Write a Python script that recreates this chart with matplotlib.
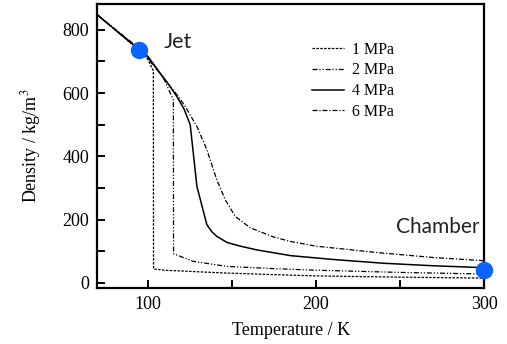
import matplotlib
matplotlib.use("Agg")
import matplotlib.pyplot as plt
from matplotlib.ticker import MultipleLocator

plt.rcParams["mathtext.fontset"] = "stix"

# Density of nitrogen vs temperature at several pressures
t_1mpa = [70, 80, 90, 95, 100, 103.3, 103.4, 110, 130, 147, 175, 200, 250, 300]
rho_1mpa = [847, 802, 757, 736, 706, 670, 44, 40, 35, 31, 26, 22, 18, 15]

t_2mpa = [70, 80, 90, 95, 100, 105, 110, 115.2, 115.3, 127, 147, 175, 200, 250, 300]
rho_2mpa = [847, 802, 757, 736, 712, 680, 640, 578, 92, 68, 52, 45, 40, 33, 28]

t_4mpa = [70, 80, 90, 95, 100, 107.3, 112, 117.3, 121.5, 125.2, 129.2, 135.1, 138, 141,
          147, 155, 165, 185, 210, 240, 270, 300]
rho_4mpa = [847, 803, 759, 738, 716, 663, 630, 589, 550, 500, 305, 184, 162, 147,
            128, 116, 104, 86, 74, 62, 54, 48]

t_6mpa = [70, 80, 90, 95, 99.4, 106, 113.3, 118, 122.2, 129.2, 135.1, 141, 146, 152,
          160.9, 174.8, 184.7, 200, 238, 270, 300]
rho_6mpa = [847, 804, 762, 742, 712, 670, 621, 590, 558, 494, 421, 326, 263, 210,
            174, 145, 131, 116, 95, 80, 70]

pressure_labels = ["1 MPa", "2 MPa", "4 MPa", "6 MPa"]

jet_point = (95, 736)
chamber_point = (300, 40)

fig = plt.figure(figsize=(5.07, 3.44), dpi=100)
ax = fig.add_axes([0.192, 0.163, 0.763, 0.826])

serif = ["Liberation Serif", "DejaVu Serif"]
sans = ["Lato", "DejaVu Sans"]

ax.plot(t_1mpa, rho_1mpa, color="black", lw=0.9, linestyle=(0, (2.0, 1.1)), label=pressure_labels[0])
ax.plot(t_2mpa, rho_2mpa, color="black", lw=0.9,
        linestyle=(0, (4, 1.5, 1, 1.5, 1, 1.5)), label=pressure_labels[1])
ax.plot(t_4mpa, rho_4mpa, color="black", lw=1.1, linestyle="-", label=pressure_labels[2])
ax.plot(t_6mpa, rho_6mpa, color="black", lw=0.9,
        linestyle=(0, (4, 1.5, 1, 1.5)), label=pressure_labels[3])

ax.plot(*jet_point, "o", color="#0a64ff", markersize=11.5, clip_on=False, zorder=5)
ax.plot(*chamber_point, "o", color="#0a64ff", markersize=11.5, clip_on=False, zorder=5)

ax.text(118, 762, "Jet", fontsize=15.5, family=sans, color="#222222", ha="center", va="center")
ax.text(297, 177, "Chamber", fontsize=15, family=sans, color="#222222", ha="right", va="center")

ax.set_xlim(70, 300)
ax.set_ylim(-16, 882)
ax.xaxis.set_major_locator(MultipleLocator(100))
ax.xaxis.set_minor_locator(MultipleLocator(50))
ax.yaxis.set_major_locator(MultipleLocator(200))
ax.yaxis.set_minor_locator(MultipleLocator(100))
ax.tick_params(which="both", direction="in", width=1.4, top=False, right=False)
ax.tick_params(which="major", length=6, labelsize=13, pad=6)
ax.tick_params(which="minor", length=6)
for lbl in ax.get_xticklabels() + ax.get_yticklabels():
    lbl.set_family(serif)
for s in ax.spines.values():
    s.set_linewidth(1.6)

ax.set_xlabel("Temperature / K", fontsize=13, family=serif, labelpad=6)
ax.set_ylabel("Density / kg/m$^3$", fontsize=13, family=serif, labelpad=14)

leg = ax.legend(loc="upper left", bbox_to_anchor=(0.523, 0.912), frameon=False,
                prop={"family": serif, "size": 11.5}, handlelength=2.0, handletextpad=0.5,
                labelspacing=0.3, borderpad=0.3)

fig.savefig("out.png", dpi=100)
